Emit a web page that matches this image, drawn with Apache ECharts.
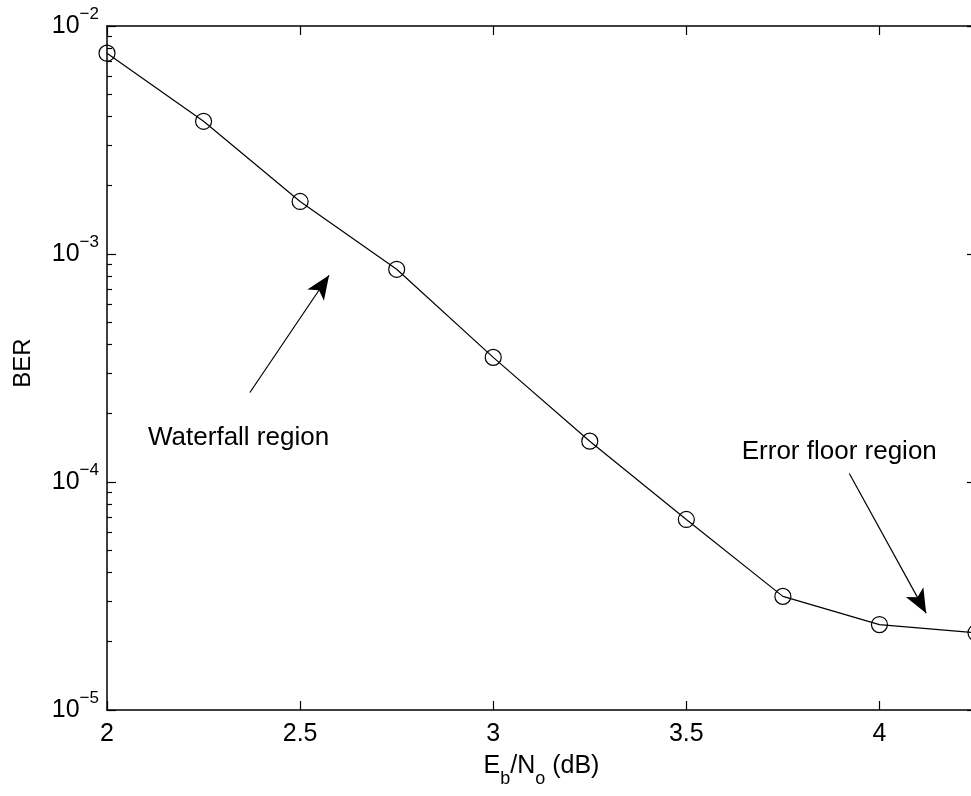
<!DOCTYPE html>
<html>
<head>
<meta charset="utf-8">
<script src="https://cdn.jsdelivr.net/npm/echarts@6/dist/echarts.min.js"></script>
<style>
html,body{margin:0;padding:0;background:#fff;}
#chart{width:971px;height:796px;}
</style>
</head>
<body>
<div id="chart"></div>
<script>
// ---- data ----
const ebno = [2, 2.25, 2.5, 2.75, 3, 3.25, 3.5, 3.75, 4, 4.25];
const ber = [7.6e-3, 3.82e-3, 1.70e-3, 8.57e-4, 3.52e-4, 1.51e-4, 6.85e-5, 3.15e-5, 2.37e-5, 2.18e-5];
const xTicks = [2, 2.5, 3, 3.5, 4];
const yMajor = [1e-5, 1e-4, 1e-3, 1e-2];
const yMinor = [2e-5,3e-5,4e-5,5e-5,6e-5,7e-5,8e-5,9e-5,2e-4,3e-4,4e-4,5e-4,6e-4,7e-4,8e-4,9e-4,2e-3,3e-3,4e-3,5e-3,6e-3,7e-3,8e-3,9e-3];
// annotations: [text, textX, textY, arrowFromX, arrowFromY, arrowToX, arrowToY]
const waterfallNote = ['Waterfall region', 2.3407, 1.556e-4, 2.370, 2.47e-4, 2.575, 8.07e-4];
const floorNote = ['Error floor region', 3.896, 1.35e-4, 3.922, 1.09e-4, 4.121, 2.66e-5];

const FONT = '"Liberation Sans", Arial, Helvetica, sans-serif';
const chart = echarts.init(document.getElementById('chart'), null, {renderer: 'canvas'});
const data = ebno.map((x, i) => [x, ber[i]]);
function yFmt(v) {
  const e = Math.round(Math.log10(v));
  return '10{sup|' + String(e).replace('-', '\u2212') + '}';
}
const yRich = {
  sup: {fontSize: 17, fontFamily: FONT, color: '#000', verticalAlign: 'top', lineHeight: 17}
};
const lineCol = '#000';
const baseY = {
  type: 'log', logBase: 10, min: 1e-5, max: 1e-2, gridIndex: 0,
  splitLine: {show: false}, minorTick: {show: false}, minorSplitLine: {show: false}
};
const baseX = {
  type: 'value', min: 2, max: 4.25, interval: 0.5, gridIndex: 0,
  splitLine: {show: false}
};
const option = {
  backgroundColor: '#fff',
  animation: false,
  grid: {left: 107, right: -5, top: 26, bottom: 86, containLabel: false, outerBoundsMode: 'none'},
  xAxis: [
    Object.assign({}, baseX, {
      position: 'bottom',
      axisLine: {show: true, onZero: false, lineStyle: {color: lineCol, width: 1.5}},
      axisTick: {show: true, inside: true, length: 9, lineStyle: {color: lineCol, width: 1.2}},
      axisLabel: {show: true, color: '#000', fontSize: 25, fontFamily: FONT, margin: 12, showMaxLabel: false},
      name: 'E{sub|b}/N{sub|o} (dB)',
      nameLocation: 'middle', nameGap: 34, nameMoveOverlap: false,
      nameTextStyle: {
        color: '#000', fontSize: 25, fontFamily: FONT, lineHeight: 44, verticalAlign: 'top',
        rich: {sub: {fontSize: 18, fontFamily: FONT, color: '#000', verticalAlign: 'bottom', lineHeight: 18}}
      }
    }),
    Object.assign({}, baseX, {
      position: 'top',
      axisLine: {show: true, onZero: false, lineStyle: {color: lineCol, width: 1.5}},
      axisTick: {show: true, inside: true, length: 9, lineStyle: {color: lineCol, width: 1.2}},
      axisLabel: {show: false}
    })
  ],
  yAxis: [
    Object.assign({}, baseY, {
      position: 'left',
      axisLine: {show: true, onZero: false, lineStyle: {color: lineCol, width: 1.5}},
      axisTick: {show: true, inside: true, length: 9, lineStyle: {color: lineCol, width: 1.2}},
      axisLabel: {show: true, color: '#000', fontSize: 25, fontFamily: FONT, margin: 8, lineHeight: 40,
        formatter: yFmt, rich: yRich},
      name: 'BER', nameLocation: 'middle', nameGap: 72, nameMoveOverlap: false,
      nameTextStyle: {color: '#000', fontSize: 24, fontFamily: FONT, padding: [0, 0, 0, 10]}
    }),
    Object.assign({}, baseY, {
      position: 'right',
      axisLine: {show: true, onZero: false, lineStyle: {color: lineCol, width: 1.5}},
      axisTick: {show: true, inside: true, length: 9, lineStyle: {color: lineCol, width: 1.2}},
      axisLabel: {show: false}
    }),
    Object.assign({}, baseY, {
      position: 'left',
      axisLine: {show: false},
      axisTick: {show: true, inside: true, length: 5, customValues: yMinor, lineStyle: {color: lineCol, width: 1.2}},
      axisLabel: {show: false}
    }),
    Object.assign({}, baseY, {
      position: 'right',
      axisLine: {show: false},
      axisTick: {show: true, inside: true, length: 5, customValues: yMinor, lineStyle: {color: lineCol, width: 1.2}},
      axisLabel: {show: false}
    })
  ],
  series: [{
    type: 'line',
    xAxisIndex: 0, yAxisIndex: 0,
    data: data,
    clip: false,
    symbol: 'circle', symbolSize: 16,
    showAllSymbol: true,
    lineStyle: {color: '#000', width: 1.2},
    itemStyle: {color: 'rgba(0,0,0,0)', borderColor: '#000', borderWidth: 1.2},
    emphasis: {disabled: true},
    markLine: {
      silent: true,
      symbol: ['none', 'arrow'],
      symbolSize: [15, 24],
      label: {show: false},
      lineStyle: {color: '#000', width: 1.2, type: 'solid'},
      emphasis: {disabled: true},
      data: [
        [{coord: [waterfallNote[3], waterfallNote[4]]}, {coord: [waterfallNote[5], waterfallNote[6]]}],
        [{coord: [floorNote[3], floorNote[4]]}, {coord: [floorNote[5], floorNote[6]]}]
      ]
    },
    markPoint: {
      silent: true,
      symbol: 'circle', symbolSize: 0,
      itemStyle: {color: 'rgba(0,0,0,0)'},
      label: {show: true, position: 'inside', color: '#000', fontSize: 26, fontFamily: FONT,
        formatter: p => p.name},
      data: [
        {name: waterfallNote[0], coord: [waterfallNote[1], waterfallNote[2]]},
        {name: floorNote[0], coord: [floorNote[1], floorNote[2]]}
      ]
    }
  }]
};
chart.setOption(option);
</script>
</body>
</html>
